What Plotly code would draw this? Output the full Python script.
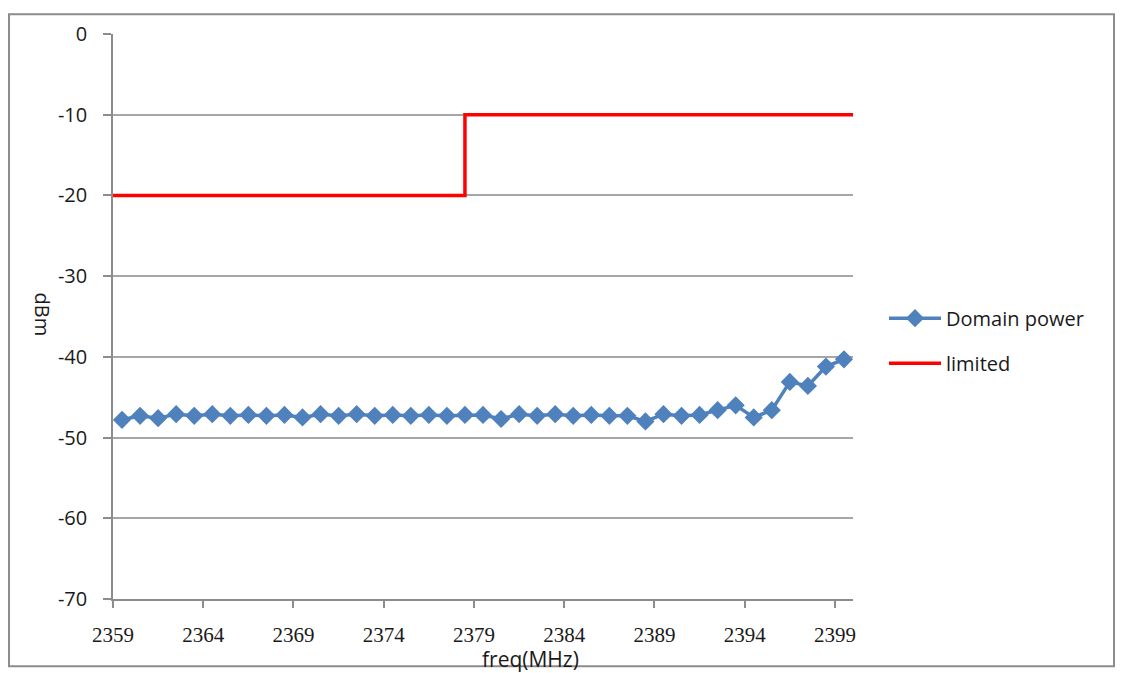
import plotly.graph_objects as go

# Domain power: measured at 1 MHz steps, offset by half a MHz
freq_start = 2359.5
domain_power = [-47.8, -47.3, -47.6, -47.1, -47.3, -47.1, -47.3, -47.2, -47.3, -47.2,
                -47.5, -47.1, -47.3, -47.1, -47.3, -47.2, -47.3, -47.2, -47.3, -47.2,
                -47.2, -47.7, -47.1, -47.3, -47.1, -47.3, -47.2, -47.3, -47.3, -48.0,
                -47.1, -47.3, -47.2, -46.6, -46.0, -47.5, -46.6, -43.1, -43.6, -41.2,
                -40.3]
freqs = [freq_start + i for i in range(len(domain_power))]

# Limit mask (step)
limit_x = [2359, 2378.5, 2378.5, 2400]
limit_y = [-20, -20, -10, -10]

x_ticks = [2359, 2364, 2369, 2374, 2379, 2384, 2389, 2394, 2399]
y_ticks = [0, -10, -20, -30, -40, -50, -60, -70]
y_ticktext = ["0", "-10", "-20", "-30", "-40", "-50", "-60", "-70"]

fig = go.Figure()
fig.add_trace(go.Scatter(
    x=freqs, y=domain_power, mode="lines+markers", name="Domain power",
    line=dict(color="#4F81BD", width=3.5),
    marker=dict(symbol="diamond", size=14, color="#4F81BD"),
    legendgroup="a",
))
fig.add_trace(go.Scatter(
    x=limit_x, y=limit_y, mode="lines", name="limited",
    line=dict(color="#FF0000", width=3.5),
    legendgroup="b",
))

OFF = 8  # page body margin
W, H = 1107, 665
L, T = 113 - OFF, 27 - OFF
R = W - (853 - OFF)
B = H - (599 - OFF)
pw, ph = W - L - R, H - T - B


def px(x):
    return (x - OFF - L) / pw


def py(y):
    return (H - B - (y - OFF)) / ph


fig.update_layout(
    width=W, height=H,
    margin=dict(l=L, r=R, t=T, b=B),
    paper_bgcolor="white", plot_bgcolor="white",
    font=dict(family="Open Sans", size=20, color="#1a1a1a"),
    showlegend=True,
    legend=dict(x=px(884), y=py(295), xanchor="left", yanchor="top",
                font=dict(family="Open Sans", size=20, color="#1a1a1a"),
                tracegroupgap=16, bgcolor="rgba(0,0,0,0)", itemwidth=52),
    xaxis=dict(
        range=[2359, 2400], tickmode="array", tickvals=x_ticks,
        ticktext=[str(v) for v in x_ticks],
        showgrid=False, zeroline=False,
        showline=True, linecolor="#8c8c8c", linewidth=1.5,
        ticks="outside", ticklen=7, tickcolor="#8c8c8c", tickwidth=1.5,
        tickfont=dict(family="Liberation Serif", size=21, color="#1a1a1a"),
        ticklabelstandoff=9,
    ),
    yaxis=dict(
        range=[-70, 0], tickmode="array", tickvals=y_ticks, ticktext=y_ticktext,
        showgrid=True, gridcolor="#a6a6a6", gridwidth=1.5, zeroline=False,
        showline=True, linecolor="#8c8c8c", linewidth=1.5,
        ticks="outside", ticklen=8, tickcolor="#8c8c8c", tickwidth=1.5,
        tickfont=dict(family="Open Sans", size=20, color="#1a1a1a"),
        ticklabelstandoff=12,
    ),
    shapes=[dict(type="rect", xref="paper", yref="paper",
                 x0=px(9), x1=px(1114), y0=py(667), y1=py(7),
                 line=dict(color="#8c8c8c", width=2), fillcolor="rgba(0,0,0,0)",
                 layer="below")],
    annotations=[
        dict(text="freq(MHz)", xref="paper", yref="paper", x=px(530), y=py(660),
             showarrow=False, xanchor="center", yanchor="middle",
             font=dict(family="Open Sans", size=21, color="#1a1a1a")),
        dict(text="dBm", xref="paper", yref="paper", x=px(42), y=py(311),
             showarrow=False, textangle=90, xanchor="center", yanchor="middle",
             font=dict(family="Open Sans", size=20, color="#1a1a1a")),
    ],
)

fig.write_html("out.html")
